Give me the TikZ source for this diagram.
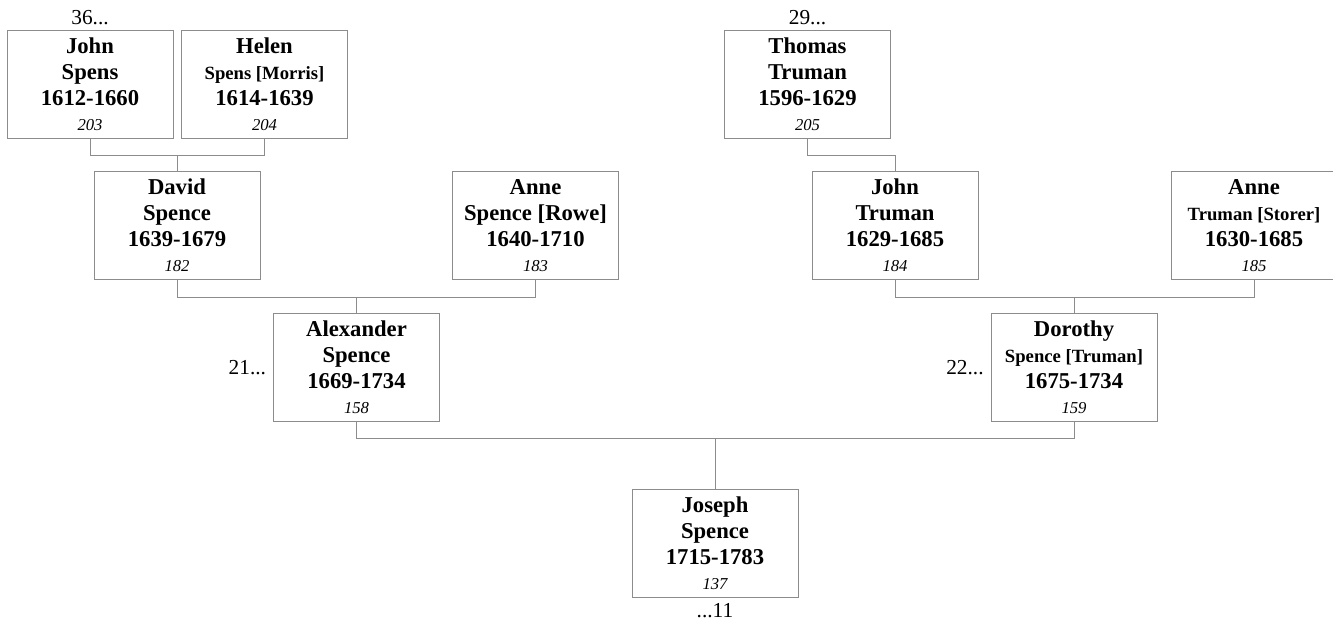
\documentclass[tikz,border=0pt]{standalone}
\usepackage{fontspec}
\setmainfont{Liberation Serif}
\usepackage{tikz}
\usetikzlibrary{positioning}
\definecolor{boxgray}{RGB}{140,140,140}
\tikzset
{
    personbox/.style = {rectangle, draw=boxgray, fill=white, line width=0.75pt, align=center, minimum width=124.5pt, minimum height=81pt, inner sep=0pt, font=\fontsize{17}{19.5}\selectfont\bfseries},
    linkline/.style  = {draw=boxgray, line width=0.75pt},
    gennum/.style    = {inner sep=0pt, font=\fontsize{16}{18}\selectfont}
}
\newcommand{\maiden}[1]{{\fontsize{14}{19.5}\selectfont #1}}
\newcommand{\refno}[1]{\\[-1pt]{\fontsize{12.5}{14}\selectfont\mdseries\itshape #1}}

\begin{document}
\begin{tikzpicture}[x=0.75pt, y=-0.75pt]
    \useasboundingbox (0,0) rectangle (1333,625);

    % grandparents
    \node [personbox] (johnS)   at (90,84.5)    {John \\ Spens \\ 1612-1660 \refno{203}};
    \node [personbox] (helen)   at (264.5,84.5) {Helen \\ \maiden{Spens [Morris]} \\ 1614-1639 \refno{204}};
    \node [personbox] (thomas)  at (807.5,84.5) {Thomas \\ Truman \\ 1596-1629 \refno{205}};

    % parents
    \node [personbox] (david)   at (177,225.5)  {David \\ Spence \\ 1639-1679 \refno{182}};
    \node [personbox] (anneR)   at (535.5,225.5) {Anne \\ Spence [Rowe] \\ 1640-1710 \refno{183}};
    \node [personbox] (johnT)   at (895,225.5)  {John \\ Truman \\ 1629-1685 \refno{184}};
    \node [personbox] (anneS)   at (1254,225.5) {Anne \\ \maiden{Truman [Storer]} \\ 1630-1685 \refno{185}};

    \node [personbox] (alex)    at (356.5,367.5) {Alexander \\ Spence \\ 1669-1734 \refno{158}};
    \node [personbox] (dorothy) at (1074,367.5) {Dorothy \\ \maiden{Spence [Truman]} \\ 1675-1734 \refno{159}};

    \node [personbox] (joseph)  at (715,543.5)  {Joseph \\ Spence \\ 1715-1783 \refno{137}};

    % generation numbers
    \node [gennum, above=4pt of johnS]   (g36) {36...};
    \node [gennum, above=4pt of thomas]  (g29) {29...};
    \node [gennum, left=5pt of alex]     (g21) {21...};
    \node [gennum, left=5pt of dorothy]  (g22) {22...};
    \node [gennum, below=4pt of joseph]  (g11) {...11};

    % links
    \draw [linkline] (johnS.south) -- ++(0,16) -| (helen.south);
    \draw [linkline] (david.north) -- ++(0,-16);
    \draw [linkline] (thomas.south) -- ++(0,16) -| (johnT.north);
    \draw [linkline] (david.south) -- ++(0,17) -| (anneR.south);
    \draw [linkline] (alex.north) -- ++(0,-16);
    \draw [linkline] (johnT.south) -- ++(0,17) -| (anneS.south);
    \draw [linkline] (dorothy.north) -- ++(0,-16);
    \draw [linkline] (alex.south) -- ++(0,16) -| (dorothy.south);
    \draw [linkline] (joseph.north) -- (joseph.north |- 0,438);
\end{tikzpicture}
\end{document}
